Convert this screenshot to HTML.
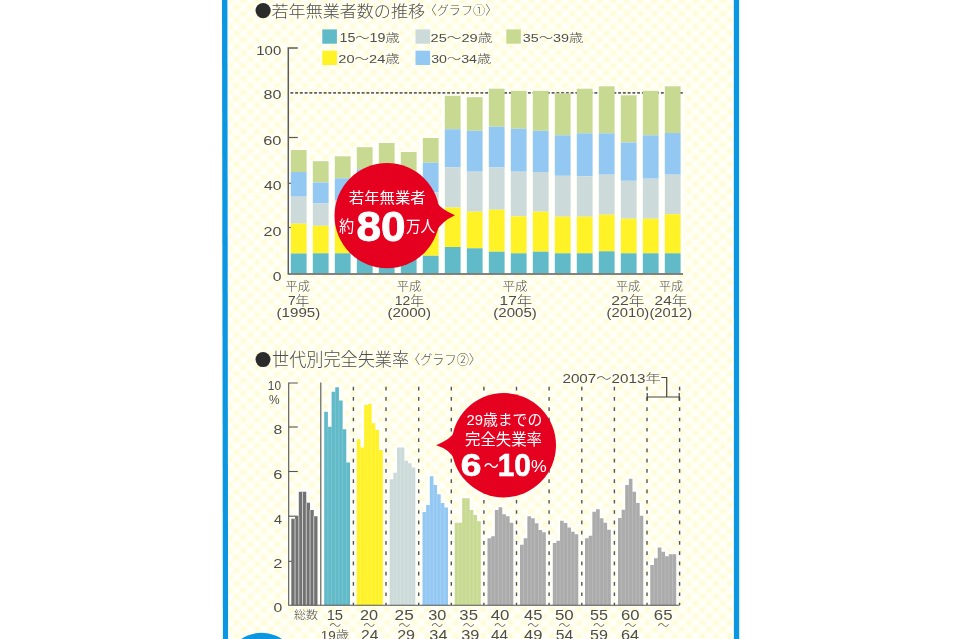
<!DOCTYPE html>
<html lang="ja"><head><meta charset="utf-8"><title>若年無業者数の推移・世代別完全失業率</title>
<style>html,body{margin:0;padding:0;background:#fff;overflow:hidden}svg{display:block}text{font-family:"Liberation Sans","Noto Sans CJK JP",sans-serif;fill:#4d4d4d}.l{font-weight:300}.w{fill:#fff}.b{font-weight:700;fill:#fff}</style></head>
<body><svg width="959" height="639" viewBox="0 0 959 639">
<defs><pattern id="chk" x="219.5" y="3.75" width="13.7" height="13.1" patternUnits="userSpaceOnUse"><rect width="13.7" height="13.1" fill="#fffffd"/><rect x="0.4" y="0.4" width="6" height="5.8" fill="#fefcd0"/><rect x="7.25" y="6.95" width="6" height="5.8" fill="#fefcd0"/></pattern><filter id="bl" x="0" y="0" width="100%" height="100%"><feGaussianBlur stdDeviation="1.5"/></filter></defs>
<rect width="959" height="639" fill="#fff"/>
<rect x="228.6" y="-5" width="504.8" height="650" fill="url(#chk)" filter="url(#bl)"/>
<path d="M222 0H227.4L228.1 639H222.9Z" fill="#0a96e0"/>
<path d="M733.8 0H739.1L739.2 639H733.9Z" fill="#0a96e0"/>
<circle cx="261.6" cy="668.7" r="36" fill="#0a96e0"/>
<g id="chart1">
<circle cx="263.1" cy="10.6" r="7.6" fill="#2b2b2b"/>
<text transform="matrix(1.0033 0 0 0.9677 271.55 16.89)" font-size="17" class="l" fill="#383838">若年無業者数の推移</text>
<text transform="matrix(1.1048 0 0 1.1300 424.54 15.45)" font-size="11" class="l">〈グラフ①〉</text>
<rect x="322.3" y="29.4" width="14.6" height="14.3" fill="#60bac8"/>
<text transform="matrix(1.1162 0 0 0.9294 339.48 42.20)" font-size="12.8" class="l">15～19歳</text>
<rect x="322.3" y="50.7" width="14.6" height="14.3" fill="#fff226"/>
<text transform="matrix(1.1374 0 0 0.8810 338.35 63.20)" font-size="12.8" class="l">20～24歳</text>
<rect x="415.5" y="29.4" width="14.6" height="14.3" fill="#ccdbd9"/>
<text transform="matrix(1.1431 0 0 0.9197 430.54 42.30)" font-size="12.8" class="l">25～29歳</text>
<rect x="415.5" y="50.7" width="14.6" height="14.3" fill="#93c8f3"/>
<text transform="matrix(1.1094 0 0 0.8519 431.15 63.10)" font-size="12.8" class="l">30～34歳</text>
<rect x="506.3" y="29.4" width="14.6" height="14.3" fill="#c8da92"/>
<text transform="matrix(1.1226 0 0 0.9197 522.74 42.30)" font-size="12.8" class="l">35～39歳</text>
<rect x="287.8" y="148.8" width="21.8" height="124.5" fill="#fffffb"/>
<rect x="309.8" y="160.0" width="21.8" height="113.3" fill="#fffffb"/>
<rect x="331.8" y="155.1" width="21.8" height="118.2" fill="#fffffb"/>
<rect x="353.8" y="146.0" width="21.8" height="127.3" fill="#fffffb"/>
<rect x="375.8" y="141.8" width="21.8" height="131.5" fill="#fffffb"/>
<rect x="397.8" y="150.8" width="21.8" height="122.5" fill="#fffffb"/>
<rect x="419.8" y="136.8" width="21.8" height="136.5" fill="#fffffb"/>
<rect x="441.8" y="94.6" width="21.8" height="178.7" fill="#fffffb"/>
<rect x="463.8" y="96.0" width="21.8" height="177.3" fill="#fffffb"/>
<rect x="485.8" y="87.5" width="21.8" height="185.8" fill="#fffffb"/>
<rect x="507.8" y="89.6" width="21.8" height="183.7" fill="#fffffb"/>
<rect x="529.8" y="89.6" width="21.8" height="183.7" fill="#fffffb"/>
<rect x="551.8" y="92.1" width="21.8" height="181.2" fill="#fffffb"/>
<rect x="573.8" y="87.5" width="21.8" height="185.8" fill="#fffffb"/>
<rect x="595.8" y="85.1" width="21.8" height="188.2" fill="#fffffb"/>
<rect x="617.8" y="94.1" width="21.8" height="179.2" fill="#fffffb"/>
<rect x="639.8" y="89.6" width="21.8" height="183.7" fill="#fffffb"/>
<rect x="661.8" y="85.1" width="21.8" height="188.2" fill="#fffffb"/>
<line x1="288.3" y1="137.5" x2="297.8" y2="137.5" stroke="#5a5a5a" stroke-width="1.2"/>
<line x1="288.3" y1="183.3" x2="297.8" y2="183.3" stroke="#5a5a5a" stroke-width="1.2"/>
<line x1="288.3" y1="227.5" x2="297.8" y2="227.5" stroke="#5a5a5a" stroke-width="1.2"/>
<line x1="290.4" y1="92.8" x2="683.6" y2="92.8" stroke="#606060" stroke-width="1.8" stroke-dasharray="2.9 1.85"/>
<rect x="290.8" y="150.0" width="15.8" height="22.0" fill="#c8da92"/>
<rect x="290.8" y="172.0" width="15.8" height="24.7" fill="#93c8f3"/>
<rect x="290.8" y="196.7" width="15.8" height="27.0" fill="#ccdbd9"/>
<rect x="290.8" y="223.7" width="15.8" height="29.8" fill="#fff226"/>
<rect x="290.8" y="253.5" width="15.8" height="19.8" fill="#60bac8"/>
<rect x="312.8" y="161.2" width="15.8" height="21.3" fill="#c8da92"/>
<rect x="312.8" y="182.5" width="15.8" height="20.8" fill="#93c8f3"/>
<rect x="312.8" y="203.3" width="15.8" height="22.5" fill="#ccdbd9"/>
<rect x="312.8" y="225.8" width="15.8" height="27.5" fill="#fff226"/>
<rect x="312.8" y="253.3" width="15.8" height="20.0" fill="#60bac8"/>
<rect x="334.8" y="156.3" width="15.8" height="22.0" fill="#c8da92"/>
<rect x="334.8" y="178.3" width="15.8" height="21.7" fill="#93c8f3"/>
<rect x="334.8" y="200.0" width="15.8" height="24.0" fill="#ccdbd9"/>
<rect x="334.8" y="224.0" width="15.8" height="29.3" fill="#fff226"/>
<rect x="334.8" y="253.3" width="15.8" height="20.0" fill="#60bac8"/>
<rect x="356.8" y="147.2" width="15.8" height="22.0" fill="#c8da92"/>
<rect x="356.8" y="169.2" width="15.8" height="25.8" fill="#93c8f3"/>
<rect x="356.8" y="195.0" width="15.8" height="27.0" fill="#ccdbd9"/>
<rect x="356.8" y="222.0" width="15.8" height="32.0" fill="#fff226"/>
<rect x="356.8" y="254.0" width="15.8" height="19.3" fill="#60bac8"/>
<rect x="378.8" y="143.0" width="15.8" height="23.0" fill="#c8da92"/>
<rect x="378.8" y="166.0" width="15.8" height="26.0" fill="#93c8f3"/>
<rect x="378.8" y="192.0" width="15.8" height="28.0" fill="#ccdbd9"/>
<rect x="378.8" y="220.0" width="15.8" height="35.0" fill="#fff226"/>
<rect x="378.8" y="255.0" width="15.8" height="18.3" fill="#60bac8"/>
<rect x="400.8" y="152.0" width="15.8" height="20.0" fill="#c8da92"/>
<rect x="400.8" y="172.0" width="15.8" height="24.0" fill="#93c8f3"/>
<rect x="400.8" y="196.0" width="15.8" height="26.0" fill="#ccdbd9"/>
<rect x="400.8" y="222.0" width="15.8" height="33.0" fill="#fff226"/>
<rect x="400.8" y="255.0" width="15.8" height="18.3" fill="#60bac8"/>
<rect x="422.8" y="138.0" width="15.8" height="24.7" fill="#c8da92"/>
<rect x="422.8" y="162.7" width="15.8" height="29.8" fill="#93c8f3"/>
<rect x="422.8" y="192.5" width="15.8" height="29.5" fill="#ccdbd9"/>
<rect x="422.8" y="222.0" width="15.8" height="33.8" fill="#fff226"/>
<rect x="422.8" y="255.8" width="15.8" height="17.5" fill="#60bac8"/>
<rect x="444.8" y="95.8" width="15.8" height="33.4" fill="#c8da92"/>
<rect x="444.8" y="129.2" width="15.8" height="38.3" fill="#93c8f3"/>
<rect x="444.8" y="167.5" width="15.8" height="40.0" fill="#ccdbd9"/>
<rect x="444.8" y="207.5" width="15.8" height="39.5" fill="#fff226"/>
<rect x="444.8" y="247.0" width="15.8" height="26.3" fill="#60bac8"/>
<rect x="466.8" y="97.2" width="15.8" height="33.6" fill="#c8da92"/>
<rect x="466.8" y="130.8" width="15.8" height="40.9" fill="#93c8f3"/>
<rect x="466.8" y="171.7" width="15.8" height="40.0" fill="#ccdbd9"/>
<rect x="466.8" y="211.7" width="15.8" height="36.6" fill="#fff226"/>
<rect x="466.8" y="248.3" width="15.8" height="25.0" fill="#60bac8"/>
<rect x="488.8" y="88.7" width="15.8" height="38.0" fill="#c8da92"/>
<rect x="488.8" y="126.7" width="15.8" height="40.8" fill="#93c8f3"/>
<rect x="488.8" y="167.5" width="15.8" height="42.2" fill="#ccdbd9"/>
<rect x="488.8" y="209.7" width="15.8" height="42.0" fill="#fff226"/>
<rect x="488.8" y="251.7" width="15.8" height="21.6" fill="#60bac8"/>
<rect x="510.8" y="90.8" width="15.8" height="37.9" fill="#c8da92"/>
<rect x="510.8" y="128.7" width="15.8" height="43.0" fill="#93c8f3"/>
<rect x="510.8" y="171.7" width="15.8" height="44.6" fill="#ccdbd9"/>
<rect x="510.8" y="216.3" width="15.8" height="37.0" fill="#fff226"/>
<rect x="510.8" y="253.3" width="15.8" height="20.0" fill="#60bac8"/>
<rect x="532.8" y="90.8" width="15.8" height="40.0" fill="#c8da92"/>
<rect x="532.8" y="130.8" width="15.8" height="41.2" fill="#93c8f3"/>
<rect x="532.8" y="172.0" width="15.8" height="39.7" fill="#ccdbd9"/>
<rect x="532.8" y="211.7" width="15.8" height="40.0" fill="#fff226"/>
<rect x="532.8" y="251.7" width="15.8" height="21.6" fill="#60bac8"/>
<rect x="554.8" y="93.3" width="15.8" height="42.0" fill="#c8da92"/>
<rect x="554.8" y="135.3" width="15.8" height="40.5" fill="#93c8f3"/>
<rect x="554.8" y="175.8" width="15.8" height="40.9" fill="#ccdbd9"/>
<rect x="554.8" y="216.7" width="15.8" height="36.6" fill="#fff226"/>
<rect x="554.8" y="253.3" width="15.8" height="20.0" fill="#60bac8"/>
<rect x="576.8" y="88.7" width="15.8" height="44.6" fill="#c8da92"/>
<rect x="576.8" y="133.3" width="15.8" height="43.0" fill="#93c8f3"/>
<rect x="576.8" y="176.3" width="15.8" height="40.4" fill="#ccdbd9"/>
<rect x="576.8" y="216.7" width="15.8" height="36.6" fill="#fff226"/>
<rect x="576.8" y="253.3" width="15.8" height="20.0" fill="#60bac8"/>
<rect x="598.8" y="86.3" width="15.8" height="47.0" fill="#c8da92"/>
<rect x="598.8" y="133.3" width="15.8" height="41.4" fill="#93c8f3"/>
<rect x="598.8" y="174.7" width="15.8" height="40.0" fill="#ccdbd9"/>
<rect x="598.8" y="214.7" width="15.8" height="36.6" fill="#fff226"/>
<rect x="598.8" y="251.3" width="15.8" height="22.0" fill="#60bac8"/>
<rect x="620.8" y="95.3" width="15.8" height="47.2" fill="#c8da92"/>
<rect x="620.8" y="142.5" width="15.8" height="38.3" fill="#93c8f3"/>
<rect x="620.8" y="180.8" width="15.8" height="37.9" fill="#ccdbd9"/>
<rect x="620.8" y="218.7" width="15.8" height="34.6" fill="#fff226"/>
<rect x="620.8" y="253.3" width="15.8" height="20.0" fill="#60bac8"/>
<rect x="642.8" y="90.8" width="15.8" height="44.5" fill="#c8da92"/>
<rect x="642.8" y="135.3" width="15.8" height="43.4" fill="#93c8f3"/>
<rect x="642.8" y="178.7" width="15.8" height="40.0" fill="#ccdbd9"/>
<rect x="642.8" y="218.7" width="15.8" height="34.6" fill="#fff226"/>
<rect x="642.8" y="253.3" width="15.8" height="20.0" fill="#60bac8"/>
<rect x="664.8" y="86.3" width="15.8" height="46.7" fill="#c8da92"/>
<rect x="664.8" y="133.0" width="15.8" height="41.7" fill="#93c8f3"/>
<rect x="664.8" y="174.7" width="15.8" height="39.5" fill="#ccdbd9"/>
<rect x="664.8" y="214.2" width="15.8" height="39.1" fill="#fff226"/>
<rect x="664.8" y="253.3" width="15.8" height="20.0" fill="#60bac8"/>
<path d="M297.8 48H288.3V273.9H683" fill="none" stroke="#5c5c5c" stroke-width="1.5"/>
<text transform="matrix(1.1846 0 0 1.0514 256.32 54.80)" font-size="12.6" class="l">100</text>
<text transform="matrix(1.2769 0 0 1.0514 263.56 99.20)" font-size="12.6" class="l">80</text>
<text transform="matrix(1.3020 0 0 1.0514 263.22 145.00)" font-size="12.6" class="l">60</text>
<text transform="matrix(1.2528 0 0 1.0514 263.89 190.00)" font-size="12.6" class="l">40</text>
<text transform="matrix(1.2784 0 0 1.0743 263.54 235.60)" font-size="12.6" class="l">20</text>
<text transform="matrix(1.2500 0 0 1.0400 272.68 280.80)" font-size="12.6" class="l">0</text>
<text transform="matrix(1.0545 0 0 1.0381 285.51 290.92)" font-size="11.6" class="l">平成</text>
<text transform="matrix(1.1111 0 0 1.0488 287.97 304.80)" font-size="12.4" class="l">7年</text>
<text transform="matrix(1.2175 0 0 0.9739 276.59 316.77)" font-size="12.4" class="l">(1995)</text>
<text transform="matrix(1.0591 0 0 1.0381 396.71 290.92)" font-size="11.6" class="l">平成</text>
<text transform="matrix(1.1224 0 0 1.0488 394.68 304.80)" font-size="12.4" class="l">12年</text>
<text transform="matrix(1.2175 0 0 0.9739 387.39 316.77)" font-size="12.4" class="l">(2000)</text>
<text transform="matrix(1.0864 0 0 1.0381 502.49 290.92)" font-size="11.6" class="l">平成</text>
<text transform="matrix(1.2449 0 0 1.0488 499.56 304.80)" font-size="12.4" class="l">17年</text>
<text transform="matrix(1.2146 0 0 0.9739 493.29 316.77)" font-size="12.4" class="l">(2005)</text>
<text transform="matrix(1.0455 0 0 1.0381 615.92 290.92)" font-size="11.6" class="l">平成</text>
<text transform="matrix(1.2727 0 0 1.0488 611.25 304.80)" font-size="12.4" class="l">22年</text>
<text transform="matrix(1.1912 0 0 0.9739 606.61 316.77)" font-size="12.4" class="l">(2010)</text>
<text transform="matrix(1.0364 0 0 1.0381 658.92 290.92)" font-size="11.6" class="l">平成</text>
<text transform="matrix(1.2444 0 0 1.0488 654.57 304.80)" font-size="12.4" class="l">24年</text>
<text transform="matrix(1.1942 0 0 0.9739 649.40 316.77)" font-size="12.4" class="l">(2012)</text>
<path d="M437.6 203.5Q441.5 209.5 455 215.3Q441.5 221.5 436.2 231.5Z" fill="#e6001f"/>
<circle cx="387.1" cy="215.7" r="52.6" fill="#e6001f"/>
<text transform="matrix(1.0127 0 0 0.9857 348.79 202.87)" font-size="15.2" class="w">若年無業者</text>
<text><tspan class="w" x="339.08" y="232.36" font-size="15.68" textLength="15.22" lengthAdjust="spacingAndGlyphs">約</tspan><tspan class="b" x="356.61" y="240.59" font-size="42.76" textLength="49.03" lengthAdjust="spacingAndGlyphs" stroke="#fff" stroke-width="0.90">80</tspan><tspan class="w" x="405.90" y="232.32" font-size="16.06" textLength="29.25" lengthAdjust="spacingAndGlyphs">万人</tspan></text>
</g>
<g id="chart2">
<circle cx="263.0" cy="359.6" r="7.5" fill="#2b2b2b"/>
<text transform="matrix(1.0200 0 0 1.1082 272.08 365.51)" font-size="16.8" class="l" fill="#383838">世代別完全失業率</text>
<text transform="matrix(1.1067 0 0 1.1800 408.03 363.51)" font-size="11" class="l">〈グラフ②〉</text>
<rect x="288.70" y="516.8" width="8.94" height="88.5" fill="#fffffb"/>
<rect x="292.44" y="514.2" width="8.94" height="91.1" fill="#fffffb"/>
<rect x="296.19" y="489.7" width="8.94" height="115.6" fill="#fffffb"/>
<rect x="299.93" y="489.7" width="8.94" height="115.6" fill="#fffffb"/>
<rect x="303.67" y="500.8" width="8.94" height="104.5" fill="#fffffb"/>
<rect x="307.41" y="508.0" width="8.94" height="97.3" fill="#fffffb"/>
<rect x="311.16" y="514.2" width="8.94" height="91.1" fill="#fffffb"/>
<rect x="321.60" y="409.7" width="8.89" height="195.6" fill="#fffffb"/>
<rect x="325.29" y="424.7" width="8.89" height="180.6" fill="#fffffb"/>
<rect x="328.97" y="389.7" width="8.89" height="215.6" fill="#fffffb"/>
<rect x="332.66" y="385.2" width="8.89" height="220.1" fill="#fffffb"/>
<rect x="336.34" y="398.5" width="8.89" height="206.8" fill="#fffffb"/>
<rect x="340.03" y="427.2" width="8.89" height="178.1" fill="#fffffb"/>
<rect x="343.71" y="460.5" width="8.89" height="144.8" fill="#fffffb"/>
<rect x="354.10" y="437.2" width="8.93" height="168.1" fill="#fffffb"/>
<rect x="357.83" y="445.5" width="8.93" height="159.8" fill="#fffffb"/>
<rect x="361.56" y="403.0" width="8.93" height="202.3" fill="#fffffb"/>
<rect x="365.29" y="401.8" width="8.93" height="203.5" fill="#fffffb"/>
<rect x="369.01" y="421.3" width="8.93" height="184.0" fill="#fffffb"/>
<rect x="372.74" y="428.0" width="8.93" height="177.3" fill="#fffffb"/>
<rect x="376.47" y="448.0" width="8.93" height="157.3" fill="#fffffb"/>
<rect x="387.10" y="477.2" width="8.86" height="128.1" fill="#fffffb"/>
<rect x="390.76" y="470.8" width="8.86" height="134.5" fill="#fffffb"/>
<rect x="394.41" y="445.5" width="8.86" height="159.8" fill="#fffffb"/>
<rect x="398.07" y="445.5" width="8.86" height="159.8" fill="#fffffb"/>
<rect x="401.73" y="458.8" width="8.86" height="146.5" fill="#fffffb"/>
<rect x="405.39" y="461.3" width="8.86" height="144.0" fill="#fffffb"/>
<rect x="409.04" y="465.5" width="8.86" height="139.8" fill="#fffffb"/>
<rect x="419.90" y="510.0" width="8.84" height="95.3" fill="#fffffb"/>
<rect x="423.54" y="503.0" width="8.84" height="102.3" fill="#fffffb"/>
<rect x="427.19" y="474.3" width="8.84" height="131.0" fill="#fffffb"/>
<rect x="430.83" y="483.0" width="8.84" height="122.3" fill="#fffffb"/>
<rect x="434.47" y="492.2" width="8.84" height="113.1" fill="#fffffb"/>
<rect x="438.11" y="501.0" width="8.84" height="104.3" fill="#fffffb"/>
<rect x="441.76" y="505.5" width="8.84" height="99.8" fill="#fffffb"/>
<rect x="452.10" y="520.8" width="8.93" height="84.5" fill="#fffffb"/>
<rect x="455.83" y="520.8" width="8.93" height="84.5" fill="#fffffb"/>
<rect x="459.56" y="496.3" width="8.93" height="109.0" fill="#fffffb"/>
<rect x="463.29" y="496.3" width="8.93" height="109.0" fill="#fffffb"/>
<rect x="467.01" y="508.0" width="8.93" height="97.3" fill="#fffffb"/>
<rect x="470.74" y="513.0" width="8.93" height="92.3" fill="#fffffb"/>
<rect x="474.47" y="519.2" width="8.93" height="86.1" fill="#fffffb"/>
<rect x="484.90" y="536.3" width="8.89" height="69.0" fill="#fffffb"/>
<rect x="488.59" y="534.3" width="8.89" height="71.0" fill="#fffffb"/>
<rect x="492.27" y="508.0" width="8.89" height="97.3" fill="#fffffb"/>
<rect x="495.96" y="505.2" width="8.89" height="100.1" fill="#fffffb"/>
<rect x="499.64" y="512.2" width="8.89" height="93.1" fill="#fffffb"/>
<rect x="503.33" y="514.3" width="8.89" height="91.0" fill="#fffffb"/>
<rect x="507.01" y="520.8" width="8.89" height="84.5" fill="#fffffb"/>
<rect x="517.40" y="542.7" width="8.89" height="62.6" fill="#fffffb"/>
<rect x="521.09" y="536.3" width="8.89" height="69.0" fill="#fffffb"/>
<rect x="524.77" y="514.3" width="8.89" height="91.0" fill="#fffffb"/>
<rect x="528.46" y="516.3" width="8.89" height="89.0" fill="#fffffb"/>
<rect x="532.14" y="521.3" width="8.89" height="84.0" fill="#fffffb"/>
<rect x="535.83" y="528.0" width="8.89" height="77.3" fill="#fffffb"/>
<rect x="539.51" y="530.2" width="8.89" height="75.1" fill="#fffffb"/>
<rect x="550.20" y="541.0" width="8.84" height="64.3" fill="#fffffb"/>
<rect x="553.84" y="538.8" width="8.84" height="66.5" fill="#fffffb"/>
<rect x="557.49" y="518.8" width="8.84" height="86.5" fill="#fffffb"/>
<rect x="561.13" y="521.0" width="8.84" height="84.3" fill="#fffffb"/>
<rect x="564.77" y="525.5" width="8.84" height="79.8" fill="#fffffb"/>
<rect x="568.41" y="529.7" width="8.84" height="75.6" fill="#fffffb"/>
<rect x="572.06" y="532.2" width="8.84" height="73.1" fill="#fffffb"/>
<rect x="582.40" y="536.3" width="8.89" height="69.0" fill="#fffffb"/>
<rect x="586.09" y="533.8" width="8.89" height="71.5" fill="#fffffb"/>
<rect x="589.77" y="509.7" width="8.89" height="95.6" fill="#fffffb"/>
<rect x="593.46" y="507.2" width="8.89" height="98.1" fill="#fffffb"/>
<rect x="597.14" y="516.3" width="8.89" height="89.0" fill="#fffffb"/>
<rect x="600.83" y="520.8" width="8.89" height="84.5" fill="#fffffb"/>
<rect x="604.51" y="527.7" width="8.89" height="77.6" fill="#fffffb"/>
<rect x="615.40" y="516.0" width="8.81" height="89.3" fill="#fffffb"/>
<rect x="619.01" y="507.7" width="8.81" height="97.6" fill="#fffffb"/>
<rect x="622.63" y="483.0" width="8.81" height="122.3" fill="#fffffb"/>
<rect x="626.24" y="476.7" width="8.81" height="128.6" fill="#fffffb"/>
<rect x="629.86" y="489.7" width="8.81" height="115.6" fill="#fffffb"/>
<rect x="633.47" y="501.0" width="8.81" height="104.3" fill="#fffffb"/>
<rect x="637.09" y="513.8" width="8.81" height="91.5" fill="#fffffb"/>
<rect x="647.70" y="563.0" width="8.90" height="42.3" fill="#fffffb"/>
<rect x="651.40" y="556.3" width="8.90" height="49.0" fill="#fffffb"/>
<rect x="655.10" y="545.5" width="8.90" height="59.8" fill="#fffffb"/>
<rect x="658.80" y="549.7" width="8.90" height="55.6" fill="#fffffb"/>
<rect x="662.50" y="554.3" width="8.90" height="51.0" fill="#fffffb"/>
<rect x="666.20" y="552.2" width="8.90" height="53.1" fill="#fffffb"/>
<rect x="669.90" y="552.2" width="8.90" height="53.1" fill="#fffffb"/>
<line x1="288.7" y1="427.0" x2="297.8" y2="427.0" stroke="#555" stroke-width="1.1"/>
<line x1="288.7" y1="471.5" x2="297.8" y2="471.5" stroke="#555" stroke-width="1.1"/>
<line x1="288.7" y1="516.2" x2="297.8" y2="516.2" stroke="#555" stroke-width="1.1"/>
<line x1="288.7" y1="561.3" x2="297.8" y2="561.3" stroke="#555" stroke-width="1.1"/>
<line x1="353.4" y1="386.8" x2="353.4" y2="605" stroke="#555" stroke-width="1.4" stroke-dasharray="3.7 6.58"/>
<line x1="386.0" y1="386.8" x2="386.0" y2="605" stroke="#555" stroke-width="1.4" stroke-dasharray="3.7 6.58"/>
<line x1="418.7" y1="386.8" x2="418.7" y2="605" stroke="#555" stroke-width="1.4" stroke-dasharray="3.7 6.58"/>
<line x1="451.3" y1="386.8" x2="451.3" y2="605" stroke="#555" stroke-width="1.4" stroke-dasharray="3.7 6.58"/>
<line x1="483.9" y1="386.8" x2="483.9" y2="605" stroke="#555" stroke-width="1.4" stroke-dasharray="3.7 6.58"/>
<line x1="516.5" y1="386.8" x2="516.5" y2="605" stroke="#555" stroke-width="1.4" stroke-dasharray="3.7 6.58"/>
<line x1="549.1" y1="386.8" x2="549.1" y2="605" stroke="#555" stroke-width="1.4" stroke-dasharray="3.7 6.58"/>
<line x1="581.8" y1="386.8" x2="581.8" y2="605" stroke="#555" stroke-width="1.4" stroke-dasharray="3.7 6.58"/>
<line x1="614.4" y1="386.8" x2="614.4" y2="605" stroke="#555" stroke-width="1.4" stroke-dasharray="3.7 6.58"/>
<line x1="647.0" y1="386.8" x2="647.0" y2="605" stroke="#555" stroke-width="1.4" stroke-dasharray="3.7 6.58"/>
<line x1="679.6" y1="386.8" x2="679.6" y2="605" stroke="#555" stroke-width="1.4" stroke-dasharray="3.7 6.58"/>
<path d="M291.30 605.3V518.8H295.04V516.2H298.79V491.7H302.53V491.7H306.27V502.8H310.01V510.0H313.76V516.2H317.50V605.3Z" fill="#727272"/>
<line x1="295.04" y1="518.8" x2="295.04" y2="605.3" stroke="#dcdcdc" stroke-opacity="0.95" stroke-width="0.9"/>
<line x1="298.79" y1="516.2" x2="298.79" y2="605.3" stroke="#dcdcdc" stroke-opacity="0.95" stroke-width="0.9"/>
<line x1="302.53" y1="491.7" x2="302.53" y2="605.3" stroke="#dcdcdc" stroke-opacity="0.95" stroke-width="0.9"/>
<line x1="306.27" y1="502.8" x2="306.27" y2="605.3" stroke="#dcdcdc" stroke-opacity="0.95" stroke-width="0.9"/>
<line x1="310.01" y1="510.0" x2="310.01" y2="605.3" stroke="#dcdcdc" stroke-opacity="0.95" stroke-width="0.9"/>
<line x1="313.76" y1="516.2" x2="313.76" y2="605.3" stroke="#dcdcdc" stroke-opacity="0.95" stroke-width="0.9"/>
<path d="M324.20 605.3V411.7H327.89V426.7H331.57V391.7H335.26V387.2H338.94V400.5H342.63V429.2H346.31V462.5H350.00V605.3Z" fill="#60bac8"/>
<line x1="327.89" y1="426.7" x2="327.89" y2="605.3" stroke="#ffffff" stroke-opacity="0.25" stroke-width="0.7"/>
<line x1="331.57" y1="426.7" x2="331.57" y2="605.3" stroke="#ffffff" stroke-opacity="0.25" stroke-width="0.7"/>
<line x1="335.26" y1="391.7" x2="335.26" y2="605.3" stroke="#ffffff" stroke-opacity="0.25" stroke-width="0.7"/>
<line x1="338.94" y1="400.5" x2="338.94" y2="605.3" stroke="#ffffff" stroke-opacity="0.25" stroke-width="0.7"/>
<line x1="342.63" y1="429.2" x2="342.63" y2="605.3" stroke="#ffffff" stroke-opacity="0.25" stroke-width="0.7"/>
<line x1="346.31" y1="462.5" x2="346.31" y2="605.3" stroke="#ffffff" stroke-opacity="0.25" stroke-width="0.7"/>
<path d="M356.70 605.3V439.2H360.43V447.5H364.16V405.0H367.89V403.8H371.61V423.3H375.34V430.0H379.07V450.0H382.80V605.3Z" fill="#fff226"/>
<line x1="360.43" y1="447.5" x2="360.43" y2="605.3" stroke="#ffffff" stroke-opacity="0.25" stroke-width="0.7"/>
<line x1="364.16" y1="447.5" x2="364.16" y2="605.3" stroke="#ffffff" stroke-opacity="0.25" stroke-width="0.7"/>
<line x1="367.89" y1="405.0" x2="367.89" y2="605.3" stroke="#ffffff" stroke-opacity="0.25" stroke-width="0.7"/>
<line x1="371.61" y1="423.3" x2="371.61" y2="605.3" stroke="#ffffff" stroke-opacity="0.25" stroke-width="0.7"/>
<line x1="375.34" y1="430.0" x2="375.34" y2="605.3" stroke="#ffffff" stroke-opacity="0.25" stroke-width="0.7"/>
<line x1="379.07" y1="450.0" x2="379.07" y2="605.3" stroke="#ffffff" stroke-opacity="0.25" stroke-width="0.7"/>
<path d="M389.70 605.3V479.2H393.36V472.8H397.01V447.5H400.67V447.5H404.33V460.8H407.99V463.3H411.64V467.5H415.30V605.3Z" fill="#ccdbd9"/>
<line x1="393.36" y1="479.2" x2="393.36" y2="605.3" stroke="#ffffff" stroke-opacity="0.25" stroke-width="0.7"/>
<line x1="397.01" y1="472.8" x2="397.01" y2="605.3" stroke="#ffffff" stroke-opacity="0.25" stroke-width="0.7"/>
<line x1="400.67" y1="447.5" x2="400.67" y2="605.3" stroke="#ffffff" stroke-opacity="0.25" stroke-width="0.7"/>
<line x1="404.33" y1="460.8" x2="404.33" y2="605.3" stroke="#ffffff" stroke-opacity="0.25" stroke-width="0.7"/>
<line x1="407.99" y1="463.3" x2="407.99" y2="605.3" stroke="#ffffff" stroke-opacity="0.25" stroke-width="0.7"/>
<line x1="411.64" y1="467.5" x2="411.64" y2="605.3" stroke="#ffffff" stroke-opacity="0.25" stroke-width="0.7"/>
<path d="M422.50 605.3V512.0H426.14V505.0H429.79V476.3H433.43V485.0H437.07V494.2H440.71V503.0H444.36V507.5H448.00V605.3Z" fill="#93c8f3"/>
<line x1="426.14" y1="512.0" x2="426.14" y2="605.3" stroke="#ffffff" stroke-opacity="0.25" stroke-width="0.7"/>
<line x1="429.79" y1="505.0" x2="429.79" y2="605.3" stroke="#ffffff" stroke-opacity="0.25" stroke-width="0.7"/>
<line x1="433.43" y1="485.0" x2="433.43" y2="605.3" stroke="#ffffff" stroke-opacity="0.25" stroke-width="0.7"/>
<line x1="437.07" y1="494.2" x2="437.07" y2="605.3" stroke="#ffffff" stroke-opacity="0.25" stroke-width="0.7"/>
<line x1="440.71" y1="503.0" x2="440.71" y2="605.3" stroke="#ffffff" stroke-opacity="0.25" stroke-width="0.7"/>
<line x1="444.36" y1="507.5" x2="444.36" y2="605.3" stroke="#ffffff" stroke-opacity="0.25" stroke-width="0.7"/>
<path d="M454.70 605.3V522.8H458.43V522.8H462.16V498.3H465.89V498.3H469.61V510.0H473.34V515.0H477.07V521.2H480.80V605.3Z" fill="#c8da92"/>
<line x1="458.43" y1="522.8" x2="458.43" y2="605.3" stroke="#ffffff" stroke-opacity="0.25" stroke-width="0.7"/>
<line x1="462.16" y1="522.8" x2="462.16" y2="605.3" stroke="#ffffff" stroke-opacity="0.25" stroke-width="0.7"/>
<line x1="465.89" y1="498.3" x2="465.89" y2="605.3" stroke="#ffffff" stroke-opacity="0.25" stroke-width="0.7"/>
<line x1="469.61" y1="510.0" x2="469.61" y2="605.3" stroke="#ffffff" stroke-opacity="0.25" stroke-width="0.7"/>
<line x1="473.34" y1="515.0" x2="473.34" y2="605.3" stroke="#ffffff" stroke-opacity="0.25" stroke-width="0.7"/>
<line x1="477.07" y1="521.2" x2="477.07" y2="605.3" stroke="#ffffff" stroke-opacity="0.25" stroke-width="0.7"/>
<path d="M487.50 605.3V538.3H491.19V536.3H494.87V510.0H498.56V507.2H502.24V514.2H505.93V516.3H509.61V522.8H513.30V605.3Z" fill="#ababab"/>
<line x1="491.19" y1="538.3" x2="491.19" y2="605.3" stroke="#ffffff" stroke-opacity="0.25" stroke-width="0.7"/>
<line x1="494.87" y1="536.3" x2="494.87" y2="605.3" stroke="#ffffff" stroke-opacity="0.25" stroke-width="0.7"/>
<line x1="498.56" y1="510.0" x2="498.56" y2="605.3" stroke="#ffffff" stroke-opacity="0.25" stroke-width="0.7"/>
<line x1="502.24" y1="514.2" x2="502.24" y2="605.3" stroke="#ffffff" stroke-opacity="0.25" stroke-width="0.7"/>
<line x1="505.93" y1="516.3" x2="505.93" y2="605.3" stroke="#ffffff" stroke-opacity="0.25" stroke-width="0.7"/>
<line x1="509.61" y1="522.8" x2="509.61" y2="605.3" stroke="#ffffff" stroke-opacity="0.25" stroke-width="0.7"/>
<path d="M520.00 605.3V544.7H523.69V538.3H527.37V516.3H531.06V518.3H534.74V523.3H538.43V530.0H542.11V532.2H545.80V605.3Z" fill="#ababab"/>
<line x1="523.69" y1="544.7" x2="523.69" y2="605.3" stroke="#ffffff" stroke-opacity="0.25" stroke-width="0.7"/>
<line x1="527.37" y1="538.3" x2="527.37" y2="605.3" stroke="#ffffff" stroke-opacity="0.25" stroke-width="0.7"/>
<line x1="531.06" y1="518.3" x2="531.06" y2="605.3" stroke="#ffffff" stroke-opacity="0.25" stroke-width="0.7"/>
<line x1="534.74" y1="523.3" x2="534.74" y2="605.3" stroke="#ffffff" stroke-opacity="0.25" stroke-width="0.7"/>
<line x1="538.43" y1="530.0" x2="538.43" y2="605.3" stroke="#ffffff" stroke-opacity="0.25" stroke-width="0.7"/>
<line x1="542.11" y1="532.2" x2="542.11" y2="605.3" stroke="#ffffff" stroke-opacity="0.25" stroke-width="0.7"/>
<path d="M552.80 605.3V543.0H556.44V540.8H560.09V520.8H563.73V523.0H567.37V527.5H571.01V531.7H574.66V534.2H578.30V605.3Z" fill="#ababab"/>
<line x1="556.44" y1="543.0" x2="556.44" y2="605.3" stroke="#ffffff" stroke-opacity="0.25" stroke-width="0.7"/>
<line x1="560.09" y1="540.8" x2="560.09" y2="605.3" stroke="#ffffff" stroke-opacity="0.25" stroke-width="0.7"/>
<line x1="563.73" y1="523.0" x2="563.73" y2="605.3" stroke="#ffffff" stroke-opacity="0.25" stroke-width="0.7"/>
<line x1="567.37" y1="527.5" x2="567.37" y2="605.3" stroke="#ffffff" stroke-opacity="0.25" stroke-width="0.7"/>
<line x1="571.01" y1="531.7" x2="571.01" y2="605.3" stroke="#ffffff" stroke-opacity="0.25" stroke-width="0.7"/>
<line x1="574.66" y1="534.2" x2="574.66" y2="605.3" stroke="#ffffff" stroke-opacity="0.25" stroke-width="0.7"/>
<path d="M585.00 605.3V538.3H588.69V535.8H592.37V511.7H596.06V509.2H599.74V518.3H603.43V522.8H607.11V529.7H610.80V605.3Z" fill="#ababab"/>
<line x1="588.69" y1="538.3" x2="588.69" y2="605.3" stroke="#ffffff" stroke-opacity="0.25" stroke-width="0.7"/>
<line x1="592.37" y1="535.8" x2="592.37" y2="605.3" stroke="#ffffff" stroke-opacity="0.25" stroke-width="0.7"/>
<line x1="596.06" y1="511.7" x2="596.06" y2="605.3" stroke="#ffffff" stroke-opacity="0.25" stroke-width="0.7"/>
<line x1="599.74" y1="518.3" x2="599.74" y2="605.3" stroke="#ffffff" stroke-opacity="0.25" stroke-width="0.7"/>
<line x1="603.43" y1="522.8" x2="603.43" y2="605.3" stroke="#ffffff" stroke-opacity="0.25" stroke-width="0.7"/>
<line x1="607.11" y1="529.7" x2="607.11" y2="605.3" stroke="#ffffff" stroke-opacity="0.25" stroke-width="0.7"/>
<path d="M618.00 605.3V518.0H621.61V509.7H625.23V485.0H628.84V478.7H632.46V491.7H636.07V503.0H639.69V515.8H643.30V605.3Z" fill="#ababab"/>
<line x1="621.61" y1="518.0" x2="621.61" y2="605.3" stroke="#ffffff" stroke-opacity="0.25" stroke-width="0.7"/>
<line x1="625.23" y1="509.7" x2="625.23" y2="605.3" stroke="#ffffff" stroke-opacity="0.25" stroke-width="0.7"/>
<line x1="628.84" y1="485.0" x2="628.84" y2="605.3" stroke="#ffffff" stroke-opacity="0.25" stroke-width="0.7"/>
<line x1="632.46" y1="491.7" x2="632.46" y2="605.3" stroke="#ffffff" stroke-opacity="0.25" stroke-width="0.7"/>
<line x1="636.07" y1="503.0" x2="636.07" y2="605.3" stroke="#ffffff" stroke-opacity="0.25" stroke-width="0.7"/>
<line x1="639.69" y1="515.8" x2="639.69" y2="605.3" stroke="#ffffff" stroke-opacity="0.25" stroke-width="0.7"/>
<path d="M650.30 605.3V565.0H654.00V558.3H657.70V547.5H661.40V551.7H665.10V556.3H668.80V554.2H672.50V554.2H676.20V605.3Z" fill="#ababab"/>
<line x1="654.00" y1="565.0" x2="654.00" y2="605.3" stroke="#ffffff" stroke-opacity="0.25" stroke-width="0.7"/>
<line x1="657.70" y1="558.3" x2="657.70" y2="605.3" stroke="#ffffff" stroke-opacity="0.25" stroke-width="0.7"/>
<line x1="661.40" y1="551.7" x2="661.40" y2="605.3" stroke="#ffffff" stroke-opacity="0.25" stroke-width="0.7"/>
<line x1="665.10" y1="556.3" x2="665.10" y2="605.3" stroke="#ffffff" stroke-opacity="0.25" stroke-width="0.7"/>
<line x1="668.80" y1="556.3" x2="668.80" y2="605.3" stroke="#ffffff" stroke-opacity="0.25" stroke-width="0.7"/>
<line x1="672.50" y1="554.2" x2="672.50" y2="605.3" stroke="#ffffff" stroke-opacity="0.25" stroke-width="0.7"/>
<path d="M297.8 383H288.7V605.3H679.6" fill="none" stroke="#555" stroke-width="1.1"/>
<line x1="320.8" y1="382.5" x2="320.8" y2="605.3" stroke="#555" stroke-width="1.1"/>
<text transform="matrix(0.9255 0 0 1.0556 267.87 389.50)" font-size="12.8" class="l">10</text>
<text transform="matrix(1.0378 0 0 1.1375 268.88 403.50)" font-size="11.5" class="l">%</text>
<text transform="matrix(1.2333 0 0 1.0222 273.58 434.20)" font-size="12.8" class="l">8</text>
<text transform="matrix(1.2870 0 0 1.0333 273.23 478.50)" font-size="12.8" class="l">6</text>
<text transform="matrix(1.1385 0 0 0.9714 273.92 523.50)" font-size="12.8" class="l">4</text>
<text transform="matrix(1.2870 0 0 1.0000 273.23 568.20)" font-size="12.8" class="l">2</text>
<text transform="matrix(1.2333 0 0 1.0222 273.58 612.30)" font-size="12.8" class="l">0</text>
<text transform="matrix(1.0382 0 0 1.0095 293.88 619.24)" font-size="11.6" class="l">総数</text>
<text transform="matrix(1.1529 0 0 1.1200 326.65 619.60)" font-size="12.8" class="l">15</text>
<text transform="matrix(1.0800 0 0 1.2000 329.21 630.30)" font-size="11" class="l">～</text>
<text transform="matrix(1.0549 0 0 0.9487 320.85 639.90)" font-size="12.8" class="l">19歳</text>
<text transform="matrix(1.2692 0 0 1.0889 360.05 619.60)" font-size="12.8" class="l">20</text>
<text transform="matrix(1.0800 0 0 1.2000 363.31 630.30)" font-size="11" class="l">～</text>
<text transform="matrix(1.2231 0 0 1.0889 360.98 640.10)" font-size="12.8" class="l">24</text>
<text transform="matrix(1.3462 0 0 1.0889 394.59 619.60)" font-size="12.8" class="l">25</text>
<text transform="matrix(1.0800 0 0 1.2000 398.41 630.30)" font-size="11" class="l">～</text>
<text transform="matrix(1.2538 0 0 1.0889 397.16 640.10)" font-size="12.8" class="l">29</text>
<text transform="matrix(1.2679 0 0 1.0889 428.17 619.60)" font-size="12.8" class="l">30</text>
<text transform="matrix(1.0800 0 0 1.2000 431.26 630.30)" font-size="11" class="l">～</text>
<text transform="matrix(1.2755 0 0 1.0889 429.36 640.10)" font-size="12.8" class="l">34</text>
<text transform="matrix(1.3057 0 0 1.0889 459.35 619.60)" font-size="12.8" class="l">35</text>
<text transform="matrix(1.0800 0 0 1.2000 462.71 630.30)" font-size="11" class="l">～</text>
<text transform="matrix(1.2755 0 0 1.0889 461.26 640.10)" font-size="12.8" class="l">39</text>
<text transform="matrix(1.3185 0 0 1.0889 490.67 619.60)" font-size="12.8" class="l">40</text>
<text transform="matrix(1.0800 0 0 1.2000 493.96 630.30)" font-size="11" class="l">～</text>
<text transform="matrix(1.2000 0 0 1.1200 491.00 640.10)" font-size="12.8" class="l">44</text>
<text transform="matrix(1.2963 0 0 1.1200 524.08 619.60)" font-size="12.8" class="l">45</text>
<text transform="matrix(1.0800 0 0 1.2000 527.21 630.30)" font-size="11" class="l">～</text>
<text transform="matrix(1.2963 0 0 1.0889 524.08 640.10)" font-size="12.8" class="l">49</text>
<text transform="matrix(1.3208 0 0 1.0889 554.94 619.60)" font-size="12.8" class="l">50</text>
<text transform="matrix(1.0800 0 0 1.2000 558.41 630.30)" font-size="11" class="l">～</text>
<text transform="matrix(1.2226 0 0 1.1200 555.69 640.10)" font-size="12.8" class="l">54</text>
<text transform="matrix(1.2604 0 0 1.1200 589.97 619.60)" font-size="12.8" class="l">55</text>
<text transform="matrix(1.0800 0 0 1.2000 593.01 630.30)" font-size="11" class="l">～</text>
<text transform="matrix(1.2604 0 0 1.0889 589.97 640.10)" font-size="12.8" class="l">59</text>
<text transform="matrix(1.3000 0 0 1.0889 620.92 619.60)" font-size="12.8" class="l">60</text>
<text transform="matrix(1.0800 0 0 1.2000 624.41 630.30)" font-size="11" class="l">～</text>
<text transform="matrix(1.2769 0 0 1.0889 620.94 640.10)" font-size="12.8" class="l">64</text>
<text transform="matrix(1.3154 0 0 1.0889 653.81 619.60)" font-size="12.8" class="l">65</text>
<text transform="matrix(1.0800 0 0 1.2000 657.41 630.30)" font-size="11" class="l">～</text>
<text transform="matrix(1.1721 0 0 0.9390 562.42 382.80)" font-size="13" class="l">2007～2013年</text>
<path d="M661.3 377.5H666.7V397M647.2 397H679.2M647.2 393V400.8M679.2 393V400.8" fill="none" stroke="#444" stroke-width="1.2"/>
<path d="M454.5 432Q451.5 438.5 436.2 445.2Q450 449.5 454.5 459.5Z" fill="#e6001f"/>
<circle cx="503.8" cy="445.2" r="52.2" fill="#e6001f"/>
<text transform="matrix(1.0759 0 0 1.0480 466.39 424.75)" font-size="13.8" class="w">29歳までの</text>
<text transform="matrix(1.0134 0 0 1.0357 465.04 444.51)" font-size="15.2" class="w">完全失業率</text>
<text><tspan class="b" x="460.84" y="475.71" font-size="31.94" textLength="20.65" lengthAdjust="spacingAndGlyphs" stroke="#fff" stroke-width="0.70">6</tspan><tspan class="w" x="483.74" y="471.94" font-size="17.38" textLength="15.03" lengthAdjust="spacingAndGlyphs">～</tspan><tspan class="b" x="497.74" y="475.71" font-size="31.94" textLength="33.24" lengthAdjust="spacingAndGlyphs" stroke="#fff" stroke-width="0.70">10</tspan><tspan class="w" x="531.14" y="471.90" font-size="17.35" textLength="15.73" lengthAdjust="spacingAndGlyphs">%</tspan></text>
</g>
</svg></body></html>
